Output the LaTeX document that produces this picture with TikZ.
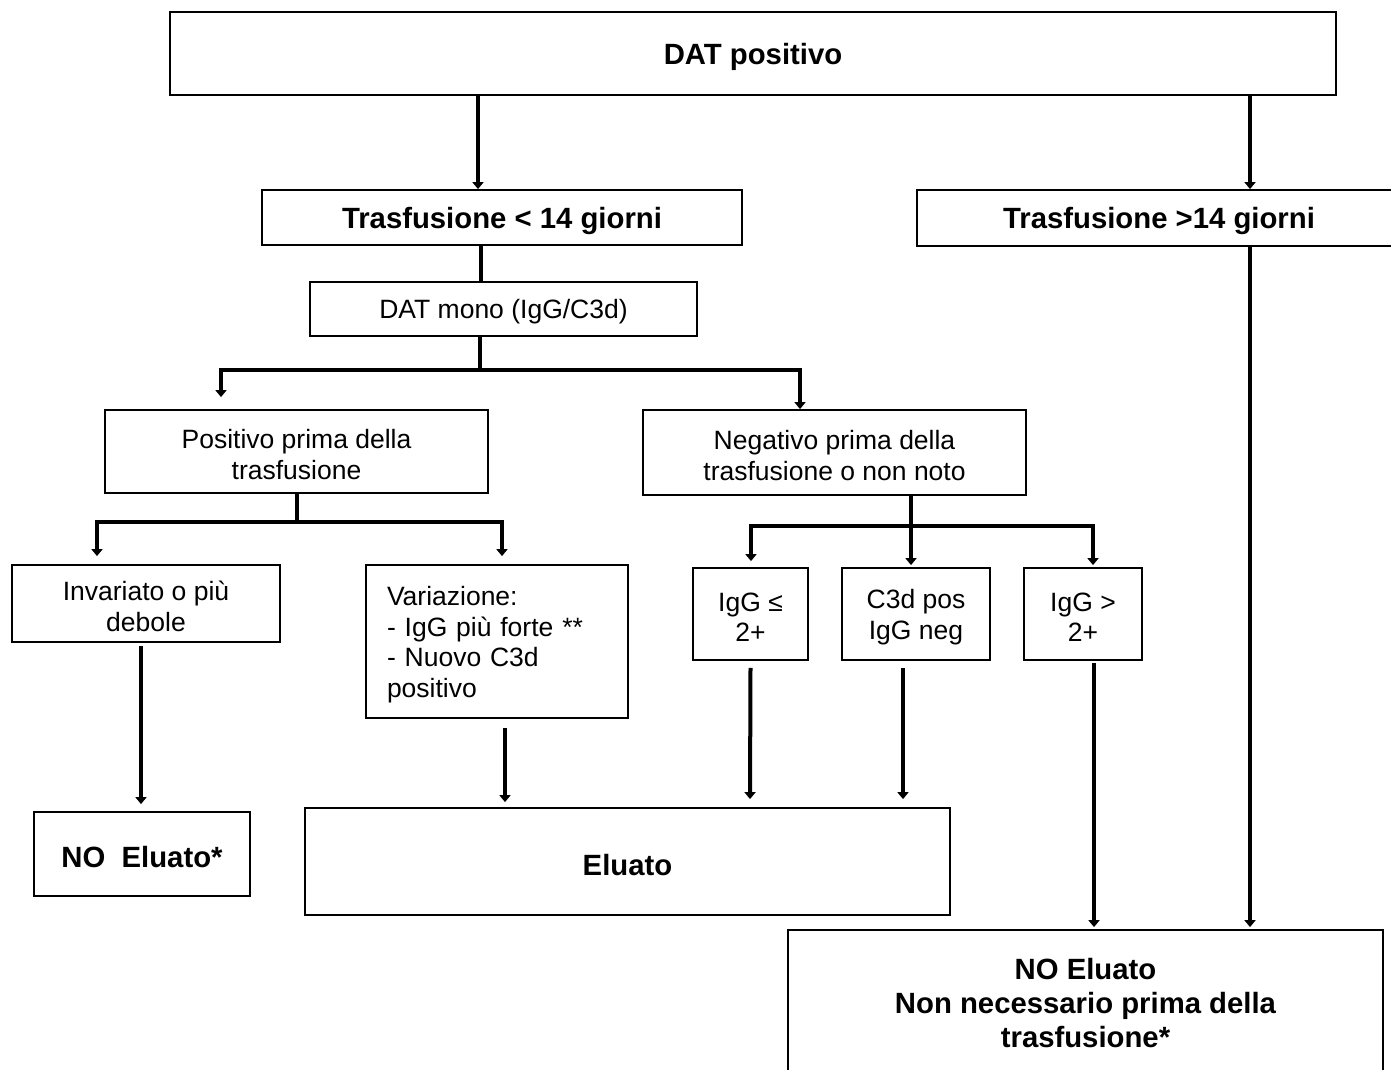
\documentclass[tikz,border=0pt]{standalone}
\usepackage{fontspec}
\setmainfont{Liberation Sans}
\usetikzlibrary{arrows.meta}
\newcommand{\normtxt}{\fontsize{26.5}{30.5}\selectfont}
\newcommand{\boldtxt}{\fontsize{29.3}{33.7}\selectfont\bfseries}
\newcommand{\tstrut}{\rule{0pt}{0.96em}}
\tikzset{
  box/.style={draw, line width=1.8pt, inner sep=0pt, align=center, font=\normtxt,
    execute at begin node={\tstrut}},
  bbox/.style={box, font=\boldtxt},
  conn/.style={line width=4pt},
  arr/.style={conn, -{Triangle[width=11pt,length=7pt]}},
  arrs/.style={conn, {Triangle[width=11pt,length=7pt]}-{Triangle[width=11pt,length=7pt]}}
}
\begin{document}
\begin{tikzpicture}[x=1pt,y=-1pt]
\fill[white] (0,0) rectangle (1391,1070);
\path[use as bounding box, clip] (0,0) rectangle (1391,1070);
% boxes
\node [bbox, minimum width=1166pt, minimum height=83pt] (dat) at (753,53.5) {DAT positivo};
\node [bbox, minimum width=480pt, minimum height=55pt] (tlt) at (502,217.5) {Trasfusione < 14 giorni};
\node [bbox, minimum width=484pt, minimum height=56pt] (tgt) at (1159,218) {Trasfusione >14 giorni};
\node [box, minimum width=387pt, minimum height=54pt] (mono) at (503.5,309) {DAT mono (IgG/C3d)};
\node [box, minimum width=383pt, minimum height=83pt] (pos) at (296.5,451.5) {\tstrut Positivo prima della\\trasfusione};
\node [box, minimum width=383pt, minimum height=85pt] (neg) at (834.5,452.5) {\tstrut Negativo prima della\\trasfusione o non noto};
\node [box, minimum width=268pt, minimum height=77pt] (inv) at (146,603.5) {\tstrut Invariato o più\\debole};
\node [box, minimum width=262pt, minimum height=153pt, text width=220pt, align=left] (var) at (497,641.5) {Variazione:\\- IgG più forte **\\- Nuovo C3d\\positivo};
\node [box, minimum width=115pt, minimum height=92pt] (le) at (750.5,614) {\tstrut IgG ≤\\2+};
\node [box, minimum width=148pt, minimum height=92pt] (c3d) at (916,614) {\tstrut C3d pos\\IgG neg};
\node [box, minimum width=118pt, minimum height=92pt] (gt) at (1083,614) {\tstrut IgG >\\2+};
\node [bbox, minimum width=216pt, minimum height=84pt] (noi) at (142,854) {NO\ \ Eluato*};
\node [bbox, minimum width=645pt, minimum height=107pt] (elu) at (627.5,861.5) {Eluato};
\node [bbox, minimum width=595pt, minimum height=146pt, execute at begin node={}] (noe) at (1085.5,1003) {NO Eluato\\Non necessario prima della\\trasfusione*};
% junctions
\coordinate (s1) at (480,370);
\coordinate (b1l) at (221,370);
\coordinate (b1r) at (800,370);
\coordinate (b2l) at (97,522);
\coordinate (b2r) at (502,522);
\coordinate (s3) at (911,526);
\coordinate (b3l) at (751,526);
\coordinate (b3r) at (1093,526);
% connectors
\draw[arr] ([xshift=-275pt]dat.south) -- ([xshift=-24pt]tlt.north);
\draw[arr] ([xshift=497pt]dat.south) -- ([xshift=91pt]tgt.north);
\draw[conn] ([xshift=-21pt]tlt.south) -- ([xshift=-22.5pt]mono.north);
\draw[conn] (mono.south -| s1) -- (s1);
\draw[arrs, shorten <=12pt] (pos.north -| b1l) -- (b1l) -- (b1r) -- (neg.north -| b1r);
\draw[conn] (pos.south) -- (pos.south |- b2l);
\draw[arrs, shorten <=8pt, shorten >=8pt] (inv.north -| b2l) -- (b2l) -- (b2r) -- (var.north -| b2r);
\draw[conn] (neg.south -| s3) -- (s3);
\draw[arrs, shorten <=6pt, shorten >=2pt] (le.north -| b3l) -- (b3l) -- (b3r) -- (gt.north -| b3r);
\draw[arr, shorten >=2pt] (s3) -- (c3d.north -| s3);
\draw[arr] ([xshift=-5pt,yshift=-3pt]inv.south) -- ([xshift=-1pt,yshift=7pt]noi.north);
\draw[arr] ([xshift=8pt,yshift=-9pt]var.south) -- ([xshift=-122.5pt,yshift=5pt]elu.north);
\draw[arr] ([yshift=-7pt]le.south) -- ([xshift=122.5pt,yshift=8pt]elu.north);
\draw[arr] ([xshift=-13pt,yshift=-7pt]c3d.south) -- ([xshift=275.5pt,yshift=8pt]elu.north);
\draw[arr] ([xshift=11pt,yshift=-2pt]gt.south) -- ([xshift=8.5pt,yshift=2pt]noe.north);
\draw[arr] ([xshift=91pt]tgt.south) -- ([xshift=164.5pt,yshift=2pt]noe.north);
\end{tikzpicture}
\end{document}
